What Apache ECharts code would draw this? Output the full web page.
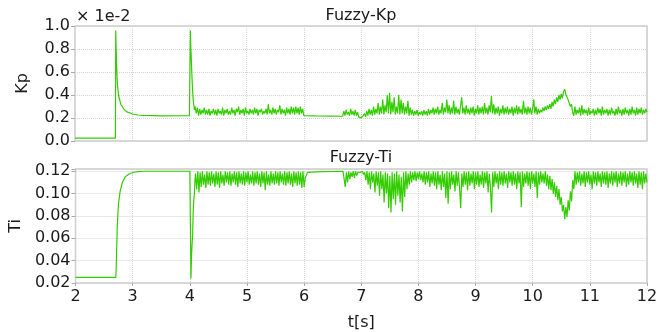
<!DOCTYPE html>
<html>
<head>
<meta charset="utf-8">
<script src="https://cdn.jsdelivr.net/npm/echarts@6/dist/echarts.min.js"></script>
<style>
  html, body {margin: 0; padding: 0; background: #fff;}
  #chart {width: 670px; height: 332px;}
</style>
</head>
<body>
<div id="chart"></div>
<script>
// sample step of the noisy parts [s]
const dt = 0.02;

// x axis ticks
const xTicks = [2, 3, 4, 5, 6, 7, 8, 9, 10, 11, 12];

// ---- Kp (units of 1e-2) ----
const kpStart = [
  [2, 0.025], [2.706, 0.025], [2.712, 0.96], [2.72, 0.80], [2.73, 0.62], [2.74, 0.50],
  [2.76, 0.40], [2.80, 0.32], [2.85, 0.28], [2.90, 0.255], [3.0, 0.235], [3.1, 0.226],
  [3.2, 0.222], [3.5, 0.219], [4.0, 0.221], [4.012, 0.222], [4.018, 0.96], [4.025, 0.80],
  [4.03, 0.76], [4.04, 0.62], [4.05, 0.50], [4.06, 0.40], [4.07, 0.34], [4.08, 0.30], [4.09, 0.27]
];
// 4.10 .. 6.00
const kpNoiseA = [
  0.30,0.24,0.29,0.22,0.28,0.23,0.27,0.24,0.29,0.23,
  0.27,0.23,0.28,0.22,0.26,0.24,0.28,0.23,0.27,0.22,
  0.28,0.24,0.26,0.23,0.29,0.22,0.27,0.24,0.28,0.23,
  0.26,0.23,0.29,0.24,0.27,0.22,0.28,0.25,0.30,0.23,
  0.27,0.24,0.28,0.22,0.29,0.24,0.26,0.23,0.28,0.24,
  0.27,0.23,0.29,0.24,0.28,0.22,0.27,0.25,0.28,0.23,
  0.26,0.24,0.28,0.23,0.32,0.24,0.27,0.23,0.29,0.24,
  0.28,0.23,0.27,0.25,0.31,0.23,0.28,0.24,0.27,0.22,
  0.29,0.24,0.28,0.23,0.30,0.24,0.29,0.23,0.30,0.24,
  0.29,0.23,0.30,0.24,0.28,0.22
];
const kpFlat = [[6.02, 0.222], [6.2, 0.218], [6.5, 0.216], [6.68, 0.215]];
// 6.70 .. 12.00
const kpNoiseB = [
  0.26,0.22,0.27,0.23,0.25,0.22,0.28,0.23,0.26,0.22,
  0.27,0.22,0.25,0.21,0.22,0.20,0.21,0.22,0.24,0.21,
  0.26,0.22,0.28,0.23,0.27,0.22,0.30,0.23,0.28,0.24,
  0.33,0.23,0.30,0.24,0.36,0.23,0.31,0.25,0.40,0.24,
  0.42,0.23,0.34,0.25,0.38,0.23,0.30,0.24,0.40,0.23,
  0.36,0.24,0.33,0.23,0.30,0.24,0.35,0.22,0.29,0.23,
  0.27,0.22,0.26,0.23,0.27,0.22,0.25,0.23,0.26,0.22,
  0.27,0.23,0.26,0.22,0.28,0.23,0.27,0.24,0.29,0.23,
  0.28,0.24,0.30,0.23,0.27,0.24,0.33,0.23,0.29,0.25,
  0.36,0.24,0.31,0.23,0.29,0.24,0.35,0.23,0.30,0.24,
  0.28,0.23,0.30,0.38,0.24,0.29,0.23,0.31,0.24,0.28,
  0.23,0.29,0.24,0.30,0.22,0.28,0.24,0.31,0.23,0.29,
  0.24,0.30,0.23,0.33,0.24,0.29,0.23,0.31,0.25,0.39,
  0.24,0.32,0.23,0.29,0.24,0.30,0.22,0.28,0.24,0.31,
  0.23,0.29,0.24,0.30,0.23,0.28,0.24,0.30,0.22,0.29,
  0.24,0.31,0.23,0.30,0.24,0.28,0.23,0.35,0.24,0.29,
  0.23,0.30,0.24,0.29,0.23,0.28,0.36,0.24,0.30,0.23,
  0.28,0.24,0.27,0.25,0.29,0.26,0.30,0.27,0.31,0.28,
  0.32,0.28,0.34,0.30,0.36,0.32,0.38,0.34,0.40,0.36,
  0.41,0.37,0.43,0.45,0.41,0.42,0.36,0.37,0.30,0.32,
  0.25,0.22,0.30,0.23,0.27,0.24,0.29,0.22,0.31,0.23,
  0.28,0.24,0.27,0.22,0.29,0.23,0.26,0.24,0.28,0.22,
  0.27,0.23,0.29,0.24,0.28,0.22,0.30,0.23,0.27,0.24,
  0.28,0.22,0.27,0.23,0.29,0.24,0.26,0.22,0.28,0.23,
  0.30,0.24,0.27,0.22,0.28,0.23,0.29,0.24,0.27,0.22,
  0.28,0.23,0.30,0.24,0.27,0.22,0.29,0.23,0.28,0.24,
  0.29,0.23,0.27,0.24,0.28,0.25
];

// ---- Ti ----
const tiStart = [
  [2, 0.025], [2.706, 0.025], [2.715, 0.04], [2.73, 0.07], [2.75, 0.09], [2.78, 0.102],
  [2.82, 0.110], [2.87, 0.115], [2.95, 0.118], [3.05, 0.1195], [3.2, 0.120], [4.0, 0.120],
  [4.01, 0.120], [4.02, 0.024], [4.03, 0.045], [4.04, 0.055], [4.05, 0.065], [4.06, 0.085],
  [4.07, 0.095], [4.08, 0.100], [4.09, 0.112]
];
// 4.10 .. 6.00
const tiNoiseA = [
  0.118,0.104,0.120,0.101,0.119,0.106,0.120,0.108,0.117,0.105,
  0.120,0.108,0.119,0.107,0.120,0.109,0.118,0.106,0.120,0.108,
  0.119,0.105,0.120,0.109,0.117,0.107,0.120,0.110,0.119,0.108,
  0.120,0.107,0.118,0.110,0.120,0.108,0.119,0.106,0.120,0.109,
  0.118,0.108,0.120,0.107,0.119,0.110,0.120,0.108,0.117,0.109,
  0.120,0.107,0.119,0.109,0.120,0.108,0.118,0.106,0.120,0.109,
  0.119,0.103,0.120,0.108,0.117,0.107,0.120,0.109,0.118,0.108,
  0.120,0.109,0.119,0.107,0.120,0.110,0.118,0.108,0.120,0.107,
  0.119,0.109,0.120,0.108,0.118,0.106,0.120,0.109,0.119,0.107,
  0.120,0.108,0.119,0.105,0.120,0.106
];
const tiFlat = [[6.02, 0.114], [6.06, 0.119], [6.2, 0.1195], [6.68, 0.120]];
// 6.70 .. 12.00
const tiNoiseB = [
  0.120,0.106,0.119,0.110,0.120,0.113,0.119,0.115,0.120,0.114,
  0.120,0.116,0.119,0.118,0.119,0.118,0.120,0.117,0.119,0.112,
  0.120,0.108,0.119,0.104,0.120,0.110,0.118,0.101,0.120,0.107,
  0.119,0.098,0.120,0.104,0.117,0.092,0.119,0.100,0.118,0.087,
  0.116,0.083,0.119,0.095,0.118,0.090,0.120,0.098,0.117,0.092,
  0.115,0.084,0.119,0.097,0.120,0.104,0.118,0.108,0.120,0.110,
  0.119,0.112,0.120,0.111,0.119,0.113,0.120,0.112,0.118,0.110,
  0.120,0.108,0.119,0.110,0.120,0.106,0.118,0.109,0.120,0.107,
  0.119,0.104,0.120,0.108,0.117,0.103,0.120,0.106,0.118,0.096,
  0.120,0.091,0.119,0.104,0.120,0.108,0.117,0.102,0.120,0.107,
  0.119,0.105,0.087,0.118,0.106,0.120,0.108,0.119,0.103,0.120,
  0.107,0.118,0.109,0.120,0.104,0.119,0.108,0.120,0.106,0.117,
  0.108,0.120,0.105,0.119,0.109,0.120,0.101,0.118,0.106,0.083,
  0.119,0.106,0.120,0.109,0.118,0.104,0.120,0.108,0.119,0.107,
  0.120,0.109,0.118,0.105,0.120,0.110,0.119,0.107,0.120,0.108,
  0.118,0.104,0.120,0.109,0.119,0.088,0.120,0.106,0.118,0.109,
  0.120,0.107,0.119,0.104,0.120,0.109,0.118,0.106,0.120,0.096,
  0.119,0.108,0.120,0.110,0.118,0.109,0.120,0.107,0.117,0.104,
  0.116,0.103,0.113,0.100,0.110,0.097,0.107,0.094,0.104,0.090,
  0.097,0.084,0.090,0.077,0.088,0.079,0.094,0.085,0.102,0.093,
  0.112,0.104,0.120,0.108,0.119,0.110,0.120,0.107,0.118,0.109,
  0.120,0.106,0.119,0.110,0.120,0.108,0.117,0.104,0.120,0.109,
  0.119,0.107,0.120,0.110,0.118,0.106,0.120,0.109,0.119,0.108,
  0.120,0.105,0.118,0.109,0.120,0.107,0.119,0.110,0.120,0.106,
  0.118,0.109,0.120,0.107,0.119,0.110,0.120,0.106,0.118,0.108,
  0.120,0.110,0.119,0.107,0.120,0.109,0.118,0.105,0.120,0.108,
  0.119,0.104,0.120,0.109,0.118,0.110
];

// turn a sampled block into [t, v] pairs
const sampled = (t0, vals) => vals.map((v, i) => [+(t0 + i * dt).toFixed(3), v]);

const kpData = [].concat(kpStart, sampled(4.10, kpNoiseA), kpFlat, sampled(6.70, kpNoiseB));
const tiData = [].concat(tiStart, sampled(4.10, tiNoiseA), tiFlat, sampled(6.70, tiNoiseB));

const font = 'DejaVu Sans';
const textColor = '#1a1a1a';
const gridColor = '#d4d4d4';
const lineColor = '#33cc00';

const chart = echarts.init(document.getElementById('chart'));

const xAxisBase = {
  type: 'value', min: 2, max: 12, interval: 1,
  axisLine: {show: false},
  splitLine: {show: true, lineStyle: {color: gridColor, type: 'dotted', width: 1}},
};
const yAxisBase = {
  type: 'value',
  nameLocation: 'middle', nameRotate: 90, nameGap: 44,
  nameTextStyle: {fontFamily: font, fontSize: 16, color: textColor},
  axisLine: {show: false},
  axisTick: {show: true, length: 4, lineStyle: {color: '#aaa'}},
  axisLabel: {fontFamily: font, fontSize: 16, color: textColor, margin: 5},
  splitLine: {show: true, lineStyle: {color: gridColor, type: 'dotted', width: 1}},
};

chart.setOption({
  animation: false,
  backgroundColor: '#fff',
  title: [
    {text: 'Fuzzy-Kp', left: 361, top: 8, textAlign: 'center', padding: 0,
     textStyle: {fontFamily: font, fontSize: 16, fontWeight: 'normal', color: textColor}},
    {text: 'Fuzzy-Ti', left: 361, top: 150, textAlign: 'center', padding: 0,
     textStyle: {fontFamily: font, fontSize: 16, fontWeight: 'normal', color: textColor}},
    {text: '× 1e-2', left: 76, top: 9, padding: 0,
     textStyle: {fontFamily: font, fontSize: 16, fontWeight: 'normal', color: textColor}},
  ],
  grid: [
    {left: 75, right: 23, top: 26, height: 115, show: true, borderColor: '#cccccc', borderWidth: 1.5},
    {left: 75, right: 23, top: 169, height: 114, show: true, borderColor: '#cccccc', borderWidth: 1.5},
  ],
  xAxis: [
    Object.assign({}, xAxisBase, {gridIndex: 0, axisTick: {show: false}, axisLabel: {show: false}}),
    Object.assign({}, xAxisBase, {
      gridIndex: 1,
      name: 't[s]', nameLocation: 'middle', nameGap: 32,
      nameTextStyle: {fontFamily: font, fontSize: 16, color: textColor},
      axisTick: {show: true, length: 3, lineStyle: {color: '#aaa'}},
      axisLabel: {fontFamily: font, fontSize: 16, color: textColor, margin: 6,
        formatter: v => xTicks.includes(v) ? String(v) : ''},
    }),
  ],
  yAxis: [
    Object.assign({}, yAxisBase, {
      gridIndex: 0, name: 'Kp', min: 0, max: 1, interval: 0.2,
      axisLabel: Object.assign({}, yAxisBase.axisLabel, {formatter: v => v.toFixed(1)}),
    }),
    Object.assign({}, yAxisBase, {
      gridIndex: 1, name: 'Ti', min: 0.02, max: 0.122, interval: 0.02,
      axisLabel: Object.assign({}, yAxisBase.axisLabel, {
        formatter: v => v > 0.1205 ? '' : v.toFixed(2)}),
    }),
  ],
  series: [
    {type: 'line', xAxisIndex: 0, yAxisIndex: 0, data: kpData, showSymbol: false,
     sampling: 'none', lineStyle: {color: lineColor, width: 1.2}, itemStyle: {color: lineColor}},
    {type: 'line', xAxisIndex: 1, yAxisIndex: 1, data: tiData, showSymbol: false,
     sampling: 'none', lineStyle: {color: lineColor, width: 1.2}, itemStyle: {color: lineColor}},
  ],
});
</script>
</body>
</html>
